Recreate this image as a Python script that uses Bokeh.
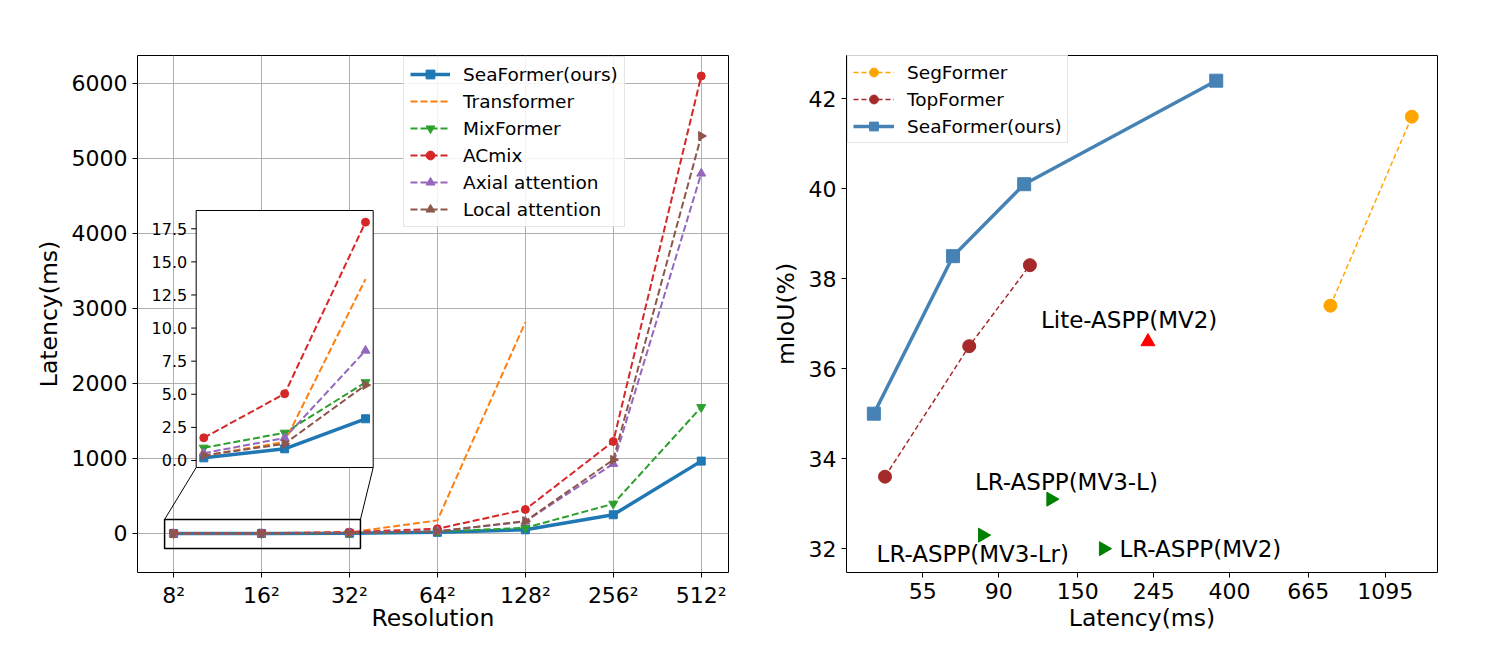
import math
from bokeh.plotting import figure
from bokeh.layouts import row
from bokeh.models import (Range1d, FixedTicker, Legend, LegendItem,
                          ColumnDataSource, PrintfTickFormatter)
from bokeh.core.properties import value
from bokeh.embed import file_html
from bokeh.resources import INLINE

FONT = "DejaVu Sans"
NAN = float("nan")

# ---------------- left chart data ----------------
resolutions = ["8²", "16²", "32²", "64²", "128²", "256²", "512²"]
seaformer_res_lat = [0.2, 0.88, 3.15, 15, 49, 250, 965]
transformer_res_lat = [0.35, 1.4, 13.7, 175, 2817, NAN, NAN]
mixformer_res_lat = [0.96, 2.09, 5.9, 25, 76, 396, 1684]
acmix_res_lat = [1.71, 5.04, 18.0, 63, 320, 1227, 6100]
axial_res_lat = [0.55, 1.7, 8.3, 30, 160, 929, 4800]
local_res_lat = [0.38, 1.26, 5.7, 28, 164, 983, 5300]
left_yticks = [0, 1000, 2000, 3000, 4000, 5000, 6000]
inset_yticks = [0.0, 2.5, 5.0, 7.5, 10.0, 12.5, 15.0, 17.5]
N_INSET = 3  # first three resolutions shown in the inset

# ---------------- right chart data ----------------
latency_ticks = [55, 90, 150, 245, 400, 665, 1095]
miou_ticks = [32, 34, 36, 38, 40, 42]
segformer_lat = [768, 1300]
segformer_miou = [37.4, 41.6]
topformer_lat = [43.1, 74.3, 110]
topformer_miou = [33.6, 36.5, 38.3]
seaformer_lat = [40.1, 66.9, 106, 367]
seaformer_miou = [35.0, 38.5, 40.1, 42.4]
lite_names = ["Lite-ASPP(MV2)"]
lite_lat = [236]
lite_miou = [36.6]
lr_names = ["LR-ASPP(MV3-L)", "LR-ASPP(MV3-Lr)", "LR-ASPP(MV2)"]
lr_lat = [126, 81, 177]
lr_miou = [33.1, 32.3, 32.0]

# label offsets (layout, in screen px)
lite_xoff, lite_yoff = [-107], [-22]
lr_xoff, lr_yoff = [-76, -106, 16], [-17, 19, 0]

# ---------------- layout constants ----------------
XL0, XL1 = -0.41, 6.31
YL0, YL1 = -520, 6373
FRAME_W, FRAME_H = 591, 517
INSET_FX = (0.0993, 0.3988)
INSET_FY = (0.2031, 0.7002)
INSET_X = (-0.094, 2.095)
INSET_Y = (-0.53, 18.88)
ZOOM_X = (-0.102, 2.125)
ZOOM_Y = (-200, 187)

C_BLUE, C_ORANGE, C_GREEN = "#1f77b4", "#ff7f0e", "#2ca02c"
C_RED, C_PURPLE, C_BROWN = "#d62728", "#9467bd", "#8c564b"


def style_axes(p, size="22px", label_size="23.5px"):
    for ax in p.axis:
        ax.major_label_text_font = FONT
        ax.major_label_text_font_size = size
        ax.major_label_text_color = "black"
        ax.axis_label_text_font = FONT
        ax.axis_label_text_font_size = label_size
        ax.axis_label_text_font_style = "normal"
        ax.axis_label_text_color = "black"
        ax.major_tick_out = 5
        ax.major_tick_in = 0
        ax.minor_tick_out = 0
        ax.minor_tick_in = 0
        ax.major_tick_line_color = "black"
        ax.axis_line_color = None
        ax.major_label_standoff = 5
        ax.axis_label_standoff = 6


# ======================= LEFT FIGURE =======================
p1 = figure(width=768, height=647, x_range=Range1d(XL0, XL1), y_range=Range1d(YL0, YL1),
            output_backend="svg", toolbar_location=None,
            min_border_left=137, min_border_right=40, min_border_top=55, min_border_bottom=75)
p1.outline_line_color = "black"
p1.outline_line_width = 1
p1.xaxis.axis_label = "Resolution"
p1.yaxis.axis_label = "Latency(ms)"
idx = list(range(len(resolutions)))
p1.xaxis.ticker = FixedTicker(ticks=idx, minor_ticks=[])
p1.xaxis.major_label_overrides = {i: r for i, r in zip(idx, resolutions)}
p1.yaxis.ticker = FixedTicker(ticks=left_yticks, minor_ticks=[])
p1.grid.grid_line_color = "#b0b0b0"
p1.grid.grid_line_width = 1
style_axes(p1)
p1.xaxis.axis_label_standoff = -7

DASH = "7 3"
series = [
    ("SeaFormer(ours)", seaformer_res_lat, C_BLUE, "solid", 3.5, "square", 0.0, 8),
    ("Transformer", transformer_res_lat, C_ORANGE, DASH, 2, None, 0.0, 0),
    ("MixFormer", mixformer_res_lat, C_GREEN, DASH, 2, "inverted_triangle", 0.0, 9),
    ("ACmix", acmix_res_lat, C_RED, DASH, 2, "circle", 0.0, 8),
    ("Axial attention", axial_res_lat, C_PURPLE, DASH, 2, "triangle", 0.0, 9),
    ("Local attention", local_res_lat, C_BROWN, DASH, 2, "triangle", -math.pi / 2, 9),
]

items = []
for name, vals, col, dash, lw, marker, ang, sz in series:
    rs = []
    rs.append(p1.line(idx, vals, line_color=col, line_width=lw, line_dash=dash))
    if marker:
        rs.append(p1.scatter(idx, vals, marker=marker, size=sz, angle=ang,
                             fill_color=col, line_color=col))
    items.append(LegendItem(label=name, renderers=rs))

# zoom rectangle and connectors (main coordinates)
p1.quad(left=[ZOOM_X[0]], right=[ZOOM_X[1]], bottom=[ZOOM_Y[0]], top=[ZOOM_Y[1]],
        fill_color=None, line_color="black", line_width=1.5)
inset_left_main = XL0 + INSET_FX[0] * (XL1 - XL0)
inset_right_main = XL0 + INSET_FX[1] * (XL1 - XL0)
inset_bottom_main = YL0 + INSET_FY[0] * (YL1 - YL0)
p1.segment(x0=[ZOOM_X[0], ZOOM_X[1]], y0=[ZOOM_Y[1], ZOOM_Y[1]],
           x1=[inset_left_main, inset_right_main], y1=[inset_bottom_main, inset_bottom_main],
           line_color="black", line_width=1)

# inset ranges mapped so the inset box lands at the right place in the frame
sx = (INSET_X[1] - INSET_X[0]) / (INSET_FX[1] - INSET_FX[0])
ix0 = INSET_X[0] - INSET_FX[0] * sx
sy = (INSET_Y[1] - INSET_Y[0]) / (INSET_FY[1] - INSET_FY[0])
iy0 = INSET_Y[0] - INSET_FY[0] * sy
p1.extra_x_ranges = {"inset": Range1d(ix0, ix0 + sx)}
p1.extra_y_ranges = {"inset": Range1d(iy0, iy0 + sy)}
IN = dict(x_range_name="inset", y_range_name="inset")

p1.quad(left=[INSET_X[0]], right=[INSET_X[1]], bottom=[INSET_Y[0]], top=[INSET_Y[1]],
        fill_color="white", line_color="black", line_width=1, **IN)
iidx = idx[:N_INSET]
for name, vals, col, dash, lw, marker, ang, sz in series:
    p1.line(iidx, vals[:N_INSET], line_color=col, line_width=lw, line_dash=dash, **IN)
    if marker:
        p1.scatter(iidx, vals[:N_INSET], marker=marker, size=sz, angle=ang,
                   fill_color=col, line_color=col, **IN)
px_x = sx / FRAME_W
p1.segment(x0=[INSET_X[0]] * len(inset_yticks), y0=inset_yticks,
           x1=[INSET_X[0] - 5 * px_x] * len(inset_yticks), y1=inset_yticks,
           line_color="black", line_width=1, **IN)
p1.text(x=[INSET_X[0]] * len(inset_yticks), y=inset_yticks,
        text=["%.1f" % t for t in inset_yticks], x_offset=-9,
        text_align="right", text_baseline="middle",
        text_font=value(FONT), text_font_size="16px", text_color="black", **IN)

leg1 = Legend(items=items, location=(266, 345))
leg1.label_text_font = FONT
leg1.label_text_font_size = "18.5px"
leg1.label_text_color = "black"
leg1.glyph_width = 40
leg1.glyph_height = 22
leg1.label_height = 22
leg1.spacing = 5
leg1.padding = 6
leg1.label_standoff = 13
leg1.border_line_color = "#cccccc"
leg1.background_fill_alpha = 0.85
leg1.margin = 0
p1.add_layout(leg1)

# ======================= RIGHT FIGURE =======================
XR0, XR1 = 33.6, 1535
YR0, YR1 = 31.47, 42.96
p2 = figure(width=689, height=647, x_axis_type="log",
            x_range=Range1d(XR0, XR1), y_range=Range1d(YR0, YR1),
            output_backend="svg", toolbar_location=None,
            min_border_left=78, min_border_right=20, min_border_top=55, min_border_bottom=75)
p2.outline_line_color = "black"
p2.outline_line_width = 1
p2.grid.visible = False
p2.xaxis.axis_label = "Latency(ms)"
p2.yaxis.axis_label = "mIoU(%)"
p2.xaxis.ticker = FixedTicker(ticks=latency_ticks, minor_ticks=[])
p2.xaxis.formatter = PrintfTickFormatter(format="%d")
p2.yaxis.ticker = FixedTicker(ticks=miou_ticks, minor_ticks=[])
style_axes(p2)
p2.xaxis.axis_label_standoff = 2

r_seg_l = p2.line(segformer_lat, segformer_miou, line_color="orange", line_width=1.5, line_dash="5 3")
r_seg_s = p2.scatter(segformer_lat, segformer_miou, marker="circle", size=13,
                     fill_color="orange", line_color="orange")
r_top_l = p2.line(topformer_lat, topformer_miou, line_color="brown", line_width=1.5, line_dash="5 3")
r_top_s = p2.scatter(topformer_lat, topformer_miou, marker="circle", size=13,
                     fill_color="brown", line_color="brown")
r_sea_l = p2.line(seaformer_lat, seaformer_miou, line_color="steelblue", line_width=3.5)
r_sea_s = p2.scatter(seaformer_lat, seaformer_miou, marker="square", size=13,
                     fill_color="steelblue", line_color="steelblue")

p2.scatter(lite_lat, lite_miou, marker="triangle", size=14, fill_color="red", line_color="red")
p2.scatter(lr_lat, lr_miou, marker="triangle", size=14, angle=-math.pi / 2,
           fill_color="green", line_color="green")

lab_src = ColumnDataSource(dict(
    x=lite_lat + lr_lat, y=lite_miou + lr_miou, t=lite_names + lr_names,
    xo=lite_xoff + lr_xoff, yo=lite_yoff + lr_yoff))
p2.text(x="x", y="y", text="t", x_offset="xo", y_offset="yo", source=lab_src,
        text_align="left", text_baseline="middle",
        text_font=value(FONT), text_font_size="23px", text_color="black")

leg2 = Legend(items=[LegendItem(label="SegFormer", renderers=[r_seg_l, r_seg_s]),
                     LegendItem(label="TopFormer", renderers=[r_top_l, r_top_s]),
                     LegendItem(label="SeaFormer(ours)", renderers=[r_sea_l, r_sea_s])],
              location=(1, 429))
leg2.label_text_font = FONT
leg2.label_text_font_size = "18.5px"
leg2.label_text_color = "black"
leg2.glyph_width = 41
leg2.glyph_height = 22
leg2.label_height = 22
leg2.spacing = 5
leg2.padding = 5
leg2.label_standoff = 13
leg2.border_line_color = "#cccccc"
leg2.background_fill_alpha = 0.85
leg2.margin = 0
p2.add_layout(leg2)

layout = row(p1, p2)
open("out.html", "w").write(file_html(layout, INLINE))
